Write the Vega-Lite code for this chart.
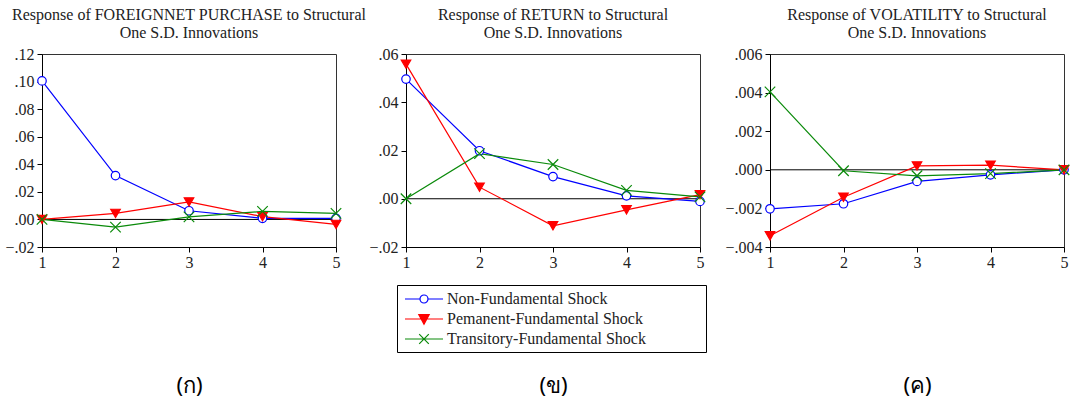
{
  "$schema": "https://vega.github.io/schema/vega-lite/v6.json",
  "background": "white",
  "padding": {"left": 4, "top": 6, "right": 11, "bottom": 5},
  "bounds": "flush",
  "spacing": 70,
  "config": {
    "font": "Liberation Serif",
    "view": {"stroke": "#333", "strokeWidth": 1},
    "title": {"font": "Liberation Serif", "fontSize": 16, "fontWeight": "normal", "color": "#222", "lineHeight": 18, "offset": 5}
  },
  "datasets": {
    "irf": [
      {"panel": "FOREIGNNET PURCHASE", "series": "Non-Fundamental Shock", "step": 1, "value": 0.1005},
      {"panel": "FOREIGNNET PURCHASE", "series": "Non-Fundamental Shock", "step": 2, "value": 0.0318},
      {"panel": "FOREIGNNET PURCHASE", "series": "Non-Fundamental Shock", "step": 3, "value": 0.0063},
      {"panel": "FOREIGNNET PURCHASE", "series": "Non-Fundamental Shock", "step": 4, "value": 0.0008},
      {"panel": "FOREIGNNET PURCHASE", "series": "Non-Fundamental Shock", "step": 5, "value": 0.0008},
      {"panel": "FOREIGNNET PURCHASE", "series": "Pemanent-Fundamental Shock", "step": 1, "value": 0.0},
      {"panel": "FOREIGNNET PURCHASE", "series": "Pemanent-Fundamental Shock", "step": 2, "value": 0.0044},
      {"panel": "FOREIGNNET PURCHASE", "series": "Pemanent-Fundamental Shock", "step": 3, "value": 0.0127},
      {"panel": "FOREIGNNET PURCHASE", "series": "Pemanent-Fundamental Shock", "step": 4, "value": 0.0020},
      {"panel": "FOREIGNNET PURCHASE", "series": "Pemanent-Fundamental Shock", "step": 5, "value": -0.0036},
      {"panel": "FOREIGNNET PURCHASE", "series": "Transitory-Fundamental Shock", "step": 1, "value": 0.0},
      {"panel": "FOREIGNNET PURCHASE", "series": "Transitory-Fundamental Shock", "step": 2, "value": -0.0056},
      {"panel": "FOREIGNNET PURCHASE", "series": "Transitory-Fundamental Shock", "step": 3, "value": 0.0019},
      {"panel": "FOREIGNNET PURCHASE", "series": "Transitory-Fundamental Shock", "step": 4, "value": 0.0058},
      {"panel": "FOREIGNNET PURCHASE", "series": "Transitory-Fundamental Shock", "step": 5, "value": 0.0044},
      {"panel": "RETURN", "series": "Non-Fundamental Shock", "step": 1, "value": 0.0496},
      {"panel": "RETURN", "series": "Non-Fundamental Shock", "step": 2, "value": 0.0199},
      {"panel": "RETURN", "series": "Non-Fundamental Shock", "step": 3, "value": 0.0092},
      {"panel": "RETURN", "series": "Non-Fundamental Shock", "step": 4, "value": 0.0012},
      {"panel": "RETURN", "series": "Non-Fundamental Shock", "step": 5, "value": -0.0011},
      {"panel": "RETURN", "series": "Pemanent-Fundamental Shock", "step": 1, "value": 0.0558},
      {"panel": "RETURN", "series": "Pemanent-Fundamental Shock", "step": 2, "value": 0.0048},
      {"panel": "RETURN", "series": "Pemanent-Fundamental Shock", "step": 3, "value": -0.0112},
      {"panel": "RETURN", "series": "Pemanent-Fundamental Shock", "step": 4, "value": -0.0046},
      {"panel": "RETURN", "series": "Pemanent-Fundamental Shock", "step": 5, "value": 0.0017},
      {"panel": "RETURN", "series": "Transitory-Fundamental Shock", "step": 1, "value": 0.0},
      {"panel": "RETURN", "series": "Transitory-Fundamental Shock", "step": 2, "value": 0.0187},
      {"panel": "RETURN", "series": "Transitory-Fundamental Shock", "step": 3, "value": 0.0142},
      {"panel": "RETURN", "series": "Transitory-Fundamental Shock", "step": 4, "value": 0.0035},
      {"panel": "RETURN", "series": "Transitory-Fundamental Shock", "step": 5, "value": 0.0008},
      {"panel": "VOLATILITY", "series": "Non-Fundamental Shock", "step": 1, "value": -0.00202},
      {"panel": "VOLATILITY", "series": "Non-Fundamental Shock", "step": 2, "value": -0.00176},
      {"panel": "VOLATILITY", "series": "Non-Fundamental Shock", "step": 3, "value": -0.00060},
      {"panel": "VOLATILITY", "series": "Non-Fundamental Shock", "step": 4, "value": -0.00026},
      {"panel": "VOLATILITY", "series": "Non-Fundamental Shock", "step": 5, "value": 0.0},
      {"panel": "VOLATILITY", "series": "Pemanent-Fundamental Shock", "step": 1, "value": -0.00342},
      {"panel": "VOLATILITY", "series": "Pemanent-Fundamental Shock", "step": 2, "value": -0.00142},
      {"panel": "VOLATILITY", "series": "Pemanent-Fundamental Shock", "step": 3, "value": 0.00020},
      {"panel": "VOLATILITY", "series": "Pemanent-Fundamental Shock", "step": 4, "value": 0.00024},
      {"panel": "VOLATILITY", "series": "Pemanent-Fundamental Shock", "step": 5, "value": 0.0},
      {"panel": "VOLATILITY", "series": "Transitory-Fundamental Shock", "step": 1, "value": 0.00404},
      {"panel": "VOLATILITY", "series": "Transitory-Fundamental Shock", "step": 2, "value": -0.00005},
      {"panel": "VOLATILITY", "series": "Transitory-Fundamental Shock", "step": 3, "value": -0.00031},
      {"panel": "VOLATILITY", "series": "Transitory-Fundamental Shock", "step": 4, "value": -0.00020},
      {"panel": "VOLATILITY", "series": "Transitory-Fundamental Shock", "step": 5, "value": 0.0}
    ]
  },
  "resolve": {"legend": {"stroke": "independent"}},
  "hconcat": [
    {
      "width": 294, "height": 193,
      "title": {"text": ["Response of FOREIGNNET PURCHASE to Structural", "One S.D. Innovations"]},
      "layer": [
        {"data": {"values": [{"ref": 0}]}, "mark": {"type": "rule", "color": "#000", "strokeWidth": 1}, "encoding": {"y": {"datum": 0, "type": "quantitative"}}},
        {"data": {"name": "irf"}, "transform": [{"filter": "datum.panel === 'FOREIGNNET PURCHASE'"}],
         "mark": {"type": "line", "strokeWidth": 1.2},
         "encoding": {
           "x": {"field": "step", "type": "quantitative", "scale": {"domain": [1, 5], "nice": false, "zero": false}, "axis": {"values": [1, 2, 3, 4, 5], "tickCount": 10, "format": "d", "grid": false, "labelFont": "Liberation Serif", "labelFontSize": 16, "labelColor": "#222", "domainColor": "#000", "tickColor": "#000", "tickSize": 5, "labelPadding": 2, "labelOverlap": false, "labelFlush": false, "title": "(ก)", "titleFont": "Noto Sans", "titleFontSize": 22, "titleFontWeight": "normal", "titleColor": "#000", "titlePadding": 105}},
           "y": {"field": "value", "type": "quantitative", "scale": {"domain": [-0.02, 0.12], "nice": false, "zero": false}, "axis": {"values": [-0.02, 0, 0.02, 0.04, 0.06, 0.08, 0.10, 0.12], "tickCount": 20, "labelExpr": "replace(format(datum.value, '.2f'), '0.', '.')", "grid": false, "labelFont": "Liberation Serif", "labelFontSize": 16, "labelColor": "#222", "domainColor": "#000", "tickColor": "#000", "tickSize": 5, "labelPadding": 3, "labelOverlap": false, "labelFlush": false, "title": null}},
           "stroke": {"field": "series", "type": "nominal", "scale": {"domain": ["Non-Fundamental Shock", "Pemanent-Fundamental Shock", "Transitory-Fundamental Shock"], "range": ["#0000ff", "#ff0000", "#0a8a0a"]}, "legend": null}
         }},
        {"data": {"name": "irf"}, "transform": [{"filter": "datum.panel === 'FOREIGNNET PURCHASE'"}],
         "mark": {"type": "point", "opacity": 1, "strokeWidth": 1.2},
         "encoding": {
           "x": {"field": "step", "type": "quantitative"},
           "y": {"field": "value", "type": "quantitative"},
           "stroke": {"field": "series", "type": "nominal", "legend": null},
           "fill": {"field": "series", "type": "nominal", "scale": {"domain": ["Non-Fundamental Shock", "Pemanent-Fundamental Shock", "Transitory-Fundamental Shock"], "range": ["#ffffff", "#ff0000", "transparent"]}, "legend": null},
           "shape": {"field": "series", "type": "nominal", "scale": {"domain": ["Non-Fundamental Shock", "Pemanent-Fundamental Shock", "Transitory-Fundamental Shock"], "range": ["circle", "triangle-down", "M-1,-1L1,1M1,-1L-1,1"]}, "legend": null},
           "size": {"field": "series", "type": "nominal", "scale": {"domain": ["Non-Fundamental Shock", "Pemanent-Fundamental Shock", "Transitory-Fundamental Shock"], "range": [72, 110, 85]}, "legend": null}
         }}
      ]
    },
    {
      "width": 294, "height": 193,
      "title": {"text": ["Response of RETURN to Structural", "One S.D. Innovations"]},
      "layer": [
        {"data": {"values": [{"ref": 0}]}, "mark": {"type": "rule", "color": "#000", "strokeWidth": 1}, "encoding": {"y": {"datum": 0, "type": "quantitative"}}},
        {"data": {"name": "irf"}, "transform": [{"filter": "datum.panel === 'RETURN'"}],
         "mark": {"type": "line", "strokeWidth": 1.2},
         "encoding": {
           "x": {"field": "step", "type": "quantitative", "scale": {"domain": [1, 5], "nice": false, "zero": false}, "axis": {"values": [1, 2, 3, 4, 5], "tickCount": 10, "format": "d", "grid": false, "labelFont": "Liberation Serif", "labelFontSize": 16, "labelColor": "#222", "domainColor": "#000", "tickColor": "#000", "tickSize": 5, "labelPadding": 2, "labelOverlap": false, "labelFlush": false, "title": "(ข)", "titleFont": "Noto Sans", "titleFontSize": 22, "titleFontWeight": "normal", "titleColor": "#000", "titlePadding": 105}},
           "y": {"field": "value", "type": "quantitative", "scale": {"domain": [-0.02, 0.06], "nice": false, "zero": false}, "axis": {"values": [-0.02, 0, 0.02, 0.04, 0.06], "tickCount": 20, "labelExpr": "replace(format(datum.value, '.2f'), '0.', '.')", "grid": false, "labelFont": "Liberation Serif", "labelFontSize": 16, "labelColor": "#222", "domainColor": "#000", "tickColor": "#000", "tickSize": 5, "labelPadding": 3, "labelOverlap": false, "labelFlush": false, "title": null}},
           "stroke": {"field": "series", "type": "nominal", "scale": {"domain": ["Non-Fundamental Shock", "Pemanent-Fundamental Shock", "Transitory-Fundamental Shock"], "range": ["#0000ff", "#ff0000", "#0a8a0a"]},
             "legend": {"orient": "none", "legendX": -9, "legendY": 231, "title": " ", "titleOrient": "right", "titlePadding": 55, "titleFontSize": 8, "direction": "vertical", "columns": 1, "strokeColor": "#000", "fillColor": "#ffffff", "padding": 5, "labelFont": "Liberation Serif", "labelFontSize": 16, "labelColor": "#222", "labelLimit": 400, "symbolSize": 256, "symbolStrokeWidth": 1.2, "labelOffset": 27, "rowPadding": 3,
               "encode": {
                 "symbols": {"update": {
                   "shape": {"signal": "datum.value === 'Non-Fundamental Shock' ? 'M-0.75,0L1.125,0M2.125,0L4,0M1.125,0A0.5,0.5,0,1,1,2.125,0A0.5,0.5,0,1,1,1.125,0Z' : datum.value === 'Pemanent-Fundamental Shock' ? 'M-0.75,0L4,0M0.975,-0.55L2.275,-0.55L1.625,0.65Z' : 'M-0.75,0L4,0M1.025,-0.6L2.225,0.6M2.225,-0.6L1.025,0.6'"},
                   "fill": {"signal": "datum.value === 'Non-Fundamental Shock' ? '#ffffff' : datum.value === 'Pemanent-Fundamental Shock' ? '#ff0000' : 'transparent'"},
                   "size": {"value": 256},
                   "opacity": {"value": 1},
                   "strokeWidth": {"value": 1.2}
                 }}
               }}}
         }},
        {"data": {"name": "irf"}, "transform": [{"filter": "datum.panel === 'RETURN'"}],
         "mark": {"type": "point", "opacity": 1, "strokeWidth": 1.2},
         "encoding": {
           "x": {"field": "step", "type": "quantitative"},
           "y": {"field": "value", "type": "quantitative"},
           "stroke": {"field": "series", "type": "nominal"},
           "fill": {"field": "series", "type": "nominal", "scale": {"domain": ["Non-Fundamental Shock", "Pemanent-Fundamental Shock", "Transitory-Fundamental Shock"], "range": ["#ffffff", "#ff0000", "transparent"]}, "legend": null},
           "shape": {"field": "series", "type": "nominal", "scale": {"domain": ["Non-Fundamental Shock", "Pemanent-Fundamental Shock", "Transitory-Fundamental Shock"], "range": ["circle", "triangle-down", "M-1,-1L1,1M1,-1L-1,1"]}, "legend": null},
           "size": {"field": "series", "type": "nominal", "scale": {"domain": ["Non-Fundamental Shock", "Pemanent-Fundamental Shock", "Transitory-Fundamental Shock"], "range": [72, 110, 85]}, "legend": null}
         }}
      ]
    },
    {
      "width": 294, "height": 193,
      "title": {"text": ["Response of VOLATILITY to Structural", "One S.D. Innovations"]},
      "layer": [
        {"data": {"values": [{"ref": 0}]}, "mark": {"type": "rule", "color": "#000", "strokeWidth": 1}, "encoding": {"y": {"datum": 0, "type": "quantitative"}}},
        {"data": {"name": "irf"}, "transform": [{"filter": "datum.panel === 'VOLATILITY'"}],
         "mark": {"type": "line", "strokeWidth": 1.2},
         "encoding": {
           "x": {"field": "step", "type": "quantitative", "scale": {"domain": [1, 5], "nice": false, "zero": false}, "axis": {"values": [1, 2, 3, 4, 5], "tickCount": 10, "format": "d", "grid": false, "labelFont": "Liberation Serif", "labelFontSize": 16, "labelColor": "#222", "domainColor": "#000", "tickColor": "#000", "tickSize": 5, "labelPadding": 2, "labelOverlap": false, "labelFlush": false, "title": "(ค)", "titleFont": "Noto Sans", "titleFontSize": 22, "titleFontWeight": "normal", "titleColor": "#000", "titlePadding": 105}},
           "y": {"field": "value", "type": "quantitative", "scale": {"domain": [-0.004, 0.006], "nice": false, "zero": false}, "axis": {"values": [-0.004, -0.002, 0, 0.002, 0.004, 0.006], "tickCount": 20, "labelExpr": "replace(format(datum.value, '.3f'), '0.', '.')", "grid": false, "labelFont": "Liberation Serif", "labelFontSize": 16, "labelColor": "#222", "domainColor": "#000", "tickColor": "#000", "tickSize": 5, "labelPadding": 3, "labelOverlap": false, "labelFlush": false, "title": null}},
           "stroke": {"field": "series", "type": "nominal", "scale": {"domain": ["Non-Fundamental Shock", "Pemanent-Fundamental Shock", "Transitory-Fundamental Shock"], "range": ["#0000ff", "#ff0000", "#0a8a0a"]}, "legend": null}
         }},
        {"data": {"name": "irf"}, "transform": [{"filter": "datum.panel === 'VOLATILITY'"}],
         "mark": {"type": "point", "opacity": 1, "strokeWidth": 1.2},
         "encoding": {
           "x": {"field": "step", "type": "quantitative"},
           "y": {"field": "value", "type": "quantitative"},
           "stroke": {"field": "series", "type": "nominal", "legend": null},
           "fill": {"field": "series", "type": "nominal", "scale": {"domain": ["Non-Fundamental Shock", "Pemanent-Fundamental Shock", "Transitory-Fundamental Shock"], "range": ["#ffffff", "#ff0000", "transparent"]}, "legend": null},
           "shape": {"field": "series", "type": "nominal", "scale": {"domain": ["Non-Fundamental Shock", "Pemanent-Fundamental Shock", "Transitory-Fundamental Shock"], "range": ["circle", "triangle-down", "M-1,-1L1,1M1,-1L-1,1"]}, "legend": null},
           "size": {"field": "series", "type": "nominal", "scale": {"domain": ["Non-Fundamental Shock", "Pemanent-Fundamental Shock", "Transitory-Fundamental Shock"], "range": [72, 110, 85]}, "legend": null}
         }}
      ]
    }
  ]
}
